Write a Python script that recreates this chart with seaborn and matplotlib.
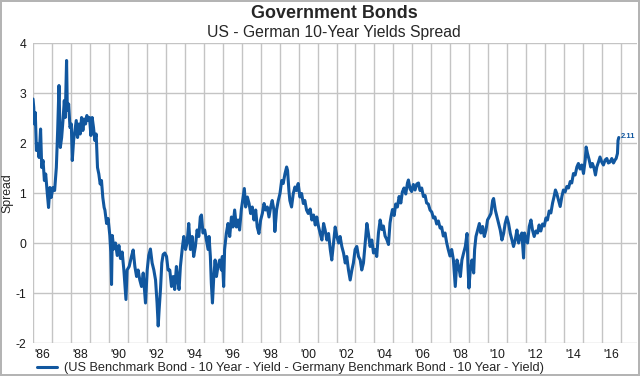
import matplotlib
matplotlib.use('Agg')
import pandas as pd
import matplotlib.pyplot as plt
import seaborn as sns

sns.set_style('whitegrid')
plt.rcParams['font.family'] = ['Liberation Sans', 'DejaVu Sans']
plt.rcParams['axes.unicode_minus'] = False

# posição no eixo x (ano decimal) e spread
year_pos = [
    1986.0, 1986.04, 1986.07, 1986.12, 1986.18, 1986.25, 1986.32, 1986.4, 1986.46, 1986.53, 1986.6, 1986.67, 1986.74, 1986.82, 1986.89, 1986.96,
    1987.05, 1987.14, 1987.23, 1987.3, 1987.37, 1987.44, 1987.51, 1987.58, 1987.65, 1987.7, 1987.77, 1987.81, 1987.88, 1987.95,
    1988.02, 1988.07, 1988.14, 1988.21, 1988.28, 1988.35, 1988.42, 1988.49, 1988.56, 1988.63, 1988.7, 1988.77, 1988.84, 1988.91, 1988.98,
    1989.05, 1989.12, 1989.19, 1989.26, 1989.33, 1989.4, 1989.47, 1989.54, 1989.61, 1989.68, 1989.75, 1989.79, 1989.88, 1989.96,
    1990.05, 1990.1, 1990.14, 1990.18, 1990.26, 1990.35, 1990.44, 1990.53, 1990.61, 1990.7, 1990.79, 1990.9, 1990.96,
    1991.07, 1991.19, 1991.28, 1991.37, 1991.46, 1991.54, 1991.63, 1991.72, 1991.81, 1991.93,
    1992.02, 1992.1, 1992.19, 1992.28, 1992.37, 1992.46, 1992.54, 1992.6, 1992.65, 1992.72, 1992.79, 1992.86, 1992.95,
    1993.04, 1993.12, 1993.21, 1993.3, 1993.39, 1993.47, 1993.56, 1993.65, 1993.7, 1993.77, 1993.88, 1993.95,
    1994.04, 1994.12, 1994.21, 1994.3, 1994.39, 1994.47, 1994.56, 1994.65, 1994.74, 1994.82, 1994.88, 1994.96,
    1995.05, 1995.14, 1995.23, 1995.28, 1995.35, 1995.4, 1995.46, 1995.53, 1995.6, 1995.67, 1995.75, 1995.84, 1995.93, 1995.98,
    1996.05, 1996.1, 1996.19, 1996.28, 1996.37, 1996.46, 1996.54, 1996.63, 1996.72, 1996.81, 1996.89, 1996.98,
    1997.05, 1997.14, 1997.21, 1997.3, 1997.39, 1997.47, 1997.56, 1997.65, 1997.74, 1997.82, 1997.91,
    1998.0, 1998.09, 1998.18, 1998.26, 1998.35, 1998.44, 1998.53, 1998.61, 1998.7, 1998.75, 1998.84, 1998.93,
    1999.02, 1999.11, 1999.19, 1999.28, 1999.37, 1999.42, 1999.49, 1999.54, 1999.63, 1999.72, 1999.81, 1999.89, 1999.98,
    2000.07, 2000.16, 2000.25, 2000.33, 2000.42, 2000.51, 2000.61, 2000.7, 2000.79, 2000.88, 2000.96,
    2001.05, 2001.14, 2001.23, 2001.32, 2001.4, 2001.49, 2001.58, 2001.67, 2001.75, 2001.84, 2001.93,
    2002.02, 2002.11, 2002.19, 2002.28, 2002.37, 2002.46, 2002.54, 2002.63, 2002.72, 2002.81, 2002.89, 2002.98,
    2003.07, 2003.16, 2003.25, 2003.33, 2003.42, 2003.51, 2003.6, 2003.68, 2003.77, 2003.86, 2003.95,
    2004.04, 2004.12, 2004.21, 2004.3, 2004.39, 2004.47, 2004.56, 2004.65, 2004.74, 2004.82, 2004.88, 2004.95,
    2005.04, 2005.12, 2005.21, 2005.3, 2005.39, 2005.47, 2005.56, 2005.65, 2005.74, 2005.79, 2005.88, 2005.96,
    2006.05, 2006.14, 2006.23, 2006.32, 2006.4, 2006.49, 2006.58, 2006.67, 2006.75, 2006.84, 2006.93,
    2007.02, 2007.11, 2007.19, 2007.28, 2007.37, 2007.46, 2007.54, 2007.63, 2007.72, 2007.81, 2007.89, 2007.98,
    2008.07, 2008.16, 2008.26, 2008.35, 2008.44, 2008.53, 2008.61, 2008.7, 2008.79, 2008.88, 2008.93, 2008.98,
    2009.05, 2009.14, 2009.23, 2009.28, 2009.35, 2009.44, 2009.53, 2009.61, 2009.7, 2009.79, 2009.88, 2009.96,
    2010.05, 2010.14, 2010.23, 2010.28, 2010.37, 2010.46, 2010.54, 2010.63, 2010.72, 2010.81, 2010.89, 2010.98,
    2011.07, 2011.16, 2011.25, 2011.33, 2011.42, 2011.51, 2011.6, 2011.68, 2011.77, 2011.86, 2011.91,
    2012.0, 2012.07, 2012.16, 2012.25, 2012.33, 2012.42, 2012.51, 2012.6, 2012.68, 2012.77, 2012.86, 2012.95,
    2013.04, 2013.12, 2013.21, 2013.3, 2013.39, 2013.47, 2013.54, 2013.61, 2013.7, 2013.79, 2013.88, 2013.96,
    2014.05, 2014.14, 2014.23, 2014.32, 2014.4, 2014.49, 2014.58, 2014.67, 2014.75, 2014.84, 2014.93,
    2015.02, 2015.11, 2015.16, 2015.23, 2015.32, 2015.4, 2015.49, 2015.58, 2015.65, 2015.72, 2015.81, 2015.89, 2015.98,
    2016.07, 2016.16, 2016.25, 2016.33, 2016.42, 2016.51, 2016.6, 2016.68, 2016.74, 2016.81, 2016.84, 2016.88,
]

spread = [
    2.88, 2.71, 2.38, 2.61, 1.85, 1.98, 1.71, 2.28, 1.51, 1.65, 1.25, 1.38, 1.05, 0.71, 1.11, 0.91,
    1.11, 1.05, 1.51, 2.25, 3.15, 1.91, 2.11, 2.45, 2.85, 2.51, 3.65, 2.65, 2.78, 2.31,
    2.38, 1.65, 2.05, 2.25, 2.45, 2.11, 2.38, 2.18, 2.51, 2.25, 2.48, 2.38, 2.55, 2.45, 2.51,
    2.15, 2.51, 2.31, 2.05, 2.18, 1.51, 1.38, 1.18, 1.25, 0.91, 0.71, 0.66, 0.39, 0.49,
    0.15, -0.18, -0.83, 0.15, -0.12, 0.0, -0.25, -0.05, -0.31, -0.18, -0.54, -1.13, -0.54,
    -0.47, -0.27, -0.14, -0.47, -0.67, -0.54, -0.74, -0.87, -0.6, -1.2,
    -0.54, -0.25, -0.12, -0.4, -0.54, -0.74, -1.2, -1.66, -1.33, -0.93, -0.4, -0.23, -0.2,
    -0.27, -0.54, -0.54, -0.87, -0.67, -0.93, -0.47, -0.8, -0.93, -0.47, -0.07, 0.13,
    -0.13, 0.0, 0.39, -0.13, 0.13, -0.27, -0.07, 0.26, 0.13, 0.52, 0.56, 0.2,
    0.26, 0.07, -0.13, 0.13, -0.27, -0.8, -1.2, -0.67, -0.34, -0.67, -0.47, -0.34, -0.54, -0.27,
    -0.87, -0.13, 0.19, 0.39, 0.13, 0.52, 0.32, 0.66, 0.32, 0.46, 0.26, 0.66,
    0.85, 1.09, 0.72, 0.92, 0.79, 0.59, 0.72, 0.46, 0.66, 0.32, 0.19,
    0.46, 0.59, 0.79, 0.66, 0.72, 0.52, 0.72, 0.85, 0.66, 0.23, 0.66, 0.85,
    0.99, 1.25, 1.19, 1.38, 1.52, 1.45, 1.05, 0.85, 0.72, 0.99, 1.12, 1.05, 1.19,
    0.92, 0.99, 0.79, 0.85, 0.66, 0.59, 0.68, 0.46, 0.56, 0.36, 0.52,
    0.33, 0.19, 0.06, 0.39, 0.26, 0.06, 0.19, -0.13, -0.34, 0.0, 0.32,
    0.13, 0.0, 0.13, -0.07, -0.2, -0.4, -0.27, -0.54, -0.74, -0.54, -0.4, -0.13,
    -0.07, -0.27, -0.34, -0.54, -0.4, 0.0, 0.39, 0.19, -0.07, 0.06, -0.2,
    -0.13, -0.27, 0.2, 0.46, 0.27, 0.34, 0.14, 0.07, -0.03, 0.4, 0.54, 0.67,
    0.55, 0.78, 0.72, 0.93, 0.8, 1.02, 1.1, 0.98, 1.2, 1.26, 1.08, 1.03,
    1.17, 1.06, 1.18, 1.2, 1.05, 1.1, 0.93, 0.95, 0.8, 0.78, 0.66,
    0.62, 0.5, 0.52, 0.38, 0.44, 0.3, 0.32, 0.14, 0.2, 0.0, -0.13, -0.26,
    -0.13, -0.33, -0.87, -0.34, -0.47, -0.67, -0.34, -0.2, -0.07, 0.19, -0.47, -0.9,
    -0.54, -0.34, -0.6, -0.13, 0.13, 0.26, 0.39, 0.2, 0.33, 0.13, 0.26, 0.46,
    0.52, 0.59, 0.85, 0.89, 0.66, 0.52, 0.39, 0.26, 0.06, 0.19, 0.39, 0.52,
    0.39, 0.19, 0.06, -0.07, 0.06, 0.26, 0.0, 0.13, 0.2, -0.3, 0.2,
    0.07, 0.0, 0.33, 0.46, 0.26, 0.13, 0.24, 0.2, 0.36, 0.24, 0.38, 0.34,
    0.5, 0.46, 0.64, 0.6, 0.8, 0.93, 1.06, 0.99, 0.86, 0.73, 0.93, 1.06,
    1.02, 1.13, 1.1, 1.23, 1.2, 1.39, 1.36, 1.52, 1.59, 1.48, 1.56,
    1.39, 1.66, 1.92, 1.79, 1.66, 1.52, 1.59, 1.49, 1.36, 1.52, 1.62, 1.72, 1.62,
    1.56, 1.66, 1.69, 1.6, 1.62, 1.69, 1.6, 1.66, 1.69, 1.79, 2.05, 2.11,
]

label_years = list(range(1986, 2017, 2))
label_text = ["'%02d" % (y % 100) for y in label_years]
y_ticks = [-2, -1, 0, 1, 2, 3, 4]

legend_text = '(US Benchmark Bond - 10 Year - Yield - Germany Benchmark Bond - 10 Year - Yield)'
blue = '#11579f'

df = pd.DataFrame({'year': year_pos, 'spread': spread})

fig = plt.figure(figsize=(6.4, 3.76), dpi=100)
fig.patch.set_edgecolor('#b4b4b4')
fig.patch.set_linewidth(1.5)
ax = fig.add_axes([33 / 640, 1 - 343 / 376, 604 / 640, 300 / 376])

sns.lineplot(data=df, x='year', y='spread', ax=ax, color=blue, linewidth=2.2,
             estimator=None, sort=True, label=legend_text)

ax.set_xlim(1986, 2017.84)
ax.set_ylim(-2, 4)
ax.set_xticks(range(1986, 2018))
ax.set_xticklabels([])
ax.set_xticks([y + 0.5 for y in label_years], minor=True)
ax.set_xticklabels(label_text, minor=True)
ax.set_yticks(y_ticks)
ax.tick_params(which='both', length=0, labelsize=8.8, colors='#1a1a1a')
ax.tick_params(axis='x', which='minor', pad=4)
ax.tick_params(axis='y', pad=5)
ax.grid(True, which='major', color='#c4c4c4', linewidth=1)
ax.grid(False, which='minor')
for s in ax.spines.values():
    s.set_visible(False)

ax.set_xlabel('')
ax.set_ylabel('Spread', fontsize=8.8)
ax.yaxis.set_label_coords(-0.033, 0.5)

ax.annotate('2.11', xy=(year_pos[-1], spread[-1]), xytext=(1.5, 1), textcoords='offset points',
            fontsize=5.5, fontweight='bold', color=blue, va='center', ha='left')

ax.get_legend().remove()
handles, labels = ax.get_legend_handles_labels()
fig.legend(handles, labels, loc='center left', bbox_to_anchor=(37 / 640, 1 - 368 / 376),
           frameon=False, borderaxespad=0, borderpad=0, handlelength=1.6, handletextpad=0.5,
           fontsize=9.2)

fig.text(334 / 640, 1 - 18 / 376, 'Government Bonds', ha='center', va='baseline',
         fontsize=12.9, fontweight='bold')
fig.text(334 / 640, 1 - 37 / 376, 'US - German 10-Year Yields Spread', ha='center',
         va='baseline', fontsize=11.3)

fig.savefig('out.png', dpi=100)
